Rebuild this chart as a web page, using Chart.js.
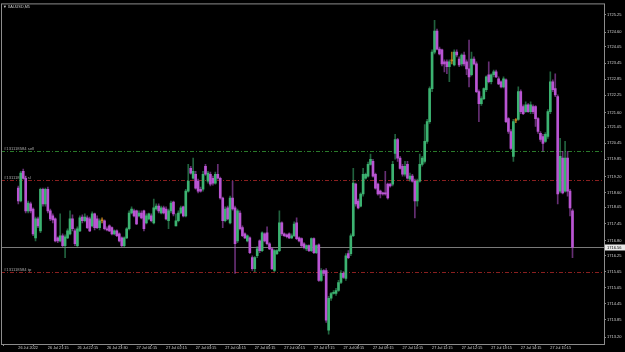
<!DOCTYPE html>
<html>
<head>
<meta charset="utf-8">
<script src="https://cdn.jsdelivr.net/npm/chart.js@4/dist/chart.umd.min.js"></script>
<style>
html,body{margin:0;padding:0;background:#000;}
canvas{display:block;}
</style>
</head>
<body>
<canvas id="c" width="625" height="352"></canvas>
<script>
const symbolTitle = 'XAUUSD,M5';
const open = [
1718.77,1718.29,1719.40,1719.14,1717.92,1718.18,1717.99,1716.91,1717.62,1717.17,
1718.73,1718.18,1718.73,1717.92,1717.73,1717.62,1716.91,1716.80,1716.99,1716.62,
1716.91,1717.06,1717.62,1717.17,1716.62,1717.17,1717.69,1717.55,1717.66,1717.62,
1717.36,1717.81,1717.62,1717.29,1717.55,1717.55,1717.25,1717.36,1717.29,1717.06,
1717.17,1717.06,1716.91,1716.62,1716.91,1717.25,1717.84,1717.92,1717.92,1717.73,
1717.84,1717.92,1717.47,1717.62,1717.73,1717.47,1717.99,1718.10,1717.84,1718.03,
1717.99,1717.55,1717.92,1718.25,1717.36,1717.55,1717.84,1718.07,1717.73,1718.66,
1719.51,1719.14,1719.29,1719.03,1718.73,1718.73,1719.59,1719.03,1719.29,1719.14,
1718.96,1719.29,1719.14,1718.40,1717.55,1718.03,1717.47,1718.40,1718.03,1716.80,
1717.84,1717.29,1717.06,1716.80,1716.91,1716.17,1715.76,1716.24,1716.80,1716.43,
1717.06,1717.10,1716.69,1716.50,1715.69,1716.32,1716.43,1717.47,1717.06,1717.02,
1717.06,1716.91,1716.99,1717.47,1716.91,1716.88,1716.69,1716.50,1716.62,1716.43,
1716.88,1716.36,1716.65,1715.32,1715.69,1715.69,1713.46,1714.65,1714.83,1714.83,
1714.94,1715.24,1715.58,1715.39,1716.32,1716.32,1716.99,1718.92,1718.29,1718.10,
1718.55,1719.14,1719.22,1719.66,1719.77,1719.29,1718.92,1718.66,1718.59,1718.59,
1718.92,1718.92,1718.92,1720.07,1720.59,1719.89,1719.59,1719.29,1719.66,1719.11,
1719.22,1719.03,1718.29,1719.03,1719.66,1719.77,1720.52,1721.26,1722.49,1723.86,
1724.64,1723.97,1723.94,1723.49,1723.49,1723.31,1723.53,1723.38,1723.86,1723.60,
1723.42,1723.75,1723.49,1723.23,1723.01,1723.60,1723.42,1722.38,1721.93,1722.12,
1722.45,1723.01,1722.75,1723.01,1723.12,1722.86,1722.75,1722.56,1722.82,1721.37,
1720.89,1719.96,1721.30,1721.34,1722.38,1721.82,1721.63,1721.89,1721.63,1721.82,
1721.82,1721.37,1720.82,1720.70,1720.52,1720.70,1721.63,1722.75,1722.49,1722.19,
1718.66,1719.89,1718.66,1719.89,1718.66,1717.92
];
const high = [
1718.85,1719.40,1719.48,1719.22,1718.29,1718.25,1718.03,1717.69,1717.69,1718.77,
1718.77,1718.77,1718.81,1717.99,1717.81,1717.66,1716.95,1717.81,1717.06,1717.02,
1717.25,1717.92,1717.77,1717.25,1717.32,1717.73,1717.77,1717.81,1717.73,1717.69,
1717.88,1717.84,1717.73,1717.62,1717.66,1717.58,1717.32,1717.40,1717.32,1717.21,
1717.21,1717.10,1716.95,1716.95,1717.29,1717.92,1718.07,1717.99,1717.95,1717.92,
1717.92,1717.95,1717.81,1717.84,1717.81,1718.36,1718.18,1718.18,1718.10,1718.10,
1718.07,1717.99,1718.29,1718.29,1717.81,1717.92,1718.10,1718.10,1718.73,1719.66,
1719.59,1719.89,1719.40,1719.11,1718.81,1719.40,1719.66,1719.40,1719.37,1719.22,
1719.37,1719.66,1719.18,1718.44,1718.07,1718.10,1718.47,1719.03,1718.10,1717.99,
1717.92,1717.36,1717.10,1717.02,1716.95,1716.24,1716.21,1716.58,1716.84,1717.14,
1717.10,1717.32,1716.73,1716.54,1716.47,1716.47,1717.92,1717.51,1717.10,1717.06,
1717.10,1717.06,1717.51,1717.66,1716.95,1716.91,1716.73,1716.65,1716.65,1716.91,
1716.91,1716.65,1716.69,1715.76,1715.72,1715.76,1714.72,1714.87,1714.94,1715.02,
1715.32,1715.69,1715.65,1716.32,1716.43,1717.06,1719.51,1718.96,1718.36,1718.59,
1719.51,1719.33,1719.74,1720.04,1719.85,1719.33,1718.96,1718.70,1718.62,1719.40,
1718.96,1718.96,1719.77,1720.78,1720.63,1719.96,1719.66,1719.77,1719.77,1719.33,
1719.29,1719.11,1719.11,1720.04,1719.96,1721.15,1721.34,1722.56,1723.94,1725.05,
1724.72,1724.05,1723.97,1723.57,1723.57,1723.57,1723.86,1723.94,1723.94,1723.68,
1723.79,1723.86,1723.57,1724.31,1723.86,1723.68,1723.49,1722.45,1722.19,1722.52,
1722.97,1723.49,1723.05,1723.19,1723.19,1722.93,1722.78,1722.93,1722.86,1721.41,
1720.96,1721.34,1721.37,1722.56,1722.45,1721.89,1722.00,1721.93,1722.00,1721.89,
1721.86,1721.41,1720.89,1720.78,1720.85,1721.71,1723.12,1722.82,1723.05,1722.26,
1720.63,1720.15,1720.52,1720.15,1718.73,1717.99
];
const low = [
1718.18,1718.25,1719.11,1717.84,1717.84,1717.84,1716.99,1716.80,1717.29,1717.10,
1718.10,1718.10,1717.84,1717.55,1717.47,1716.76,1716.73,1716.76,1716.58,1716.17,
1716.88,1717.02,1717.17,1716.62,1716.58,1717.14,1717.47,1717.51,1717.25,1717.14,
1717.32,1717.21,1717.25,1717.21,1717.47,1717.21,1717.17,1717.14,1717.02,1717.02,
1716.95,1716.76,1716.58,1716.58,1716.88,1717.21,1717.81,1717.69,1717.40,1717.69,
1717.62,1717.17,1717.43,1717.58,1717.51,1717.43,1717.95,1717.84,1717.81,1717.81,
1717.58,1717.25,1717.84,1717.73,1717.36,1717.51,1717.81,1717.69,1717.69,1718.62,
1719.29,1719.11,1718.73,1718.59,1718.62,1718.66,1719.25,1718.96,1718.85,1718.88,
1718.92,1719.11,1718.36,1717.29,1717.51,1717.58,1717.43,1717.95,1715.58,1716.73,
1717.21,1716.95,1716.88,1716.76,1716.32,1715.69,1715.65,1716.17,1716.36,1716.39,
1716.76,1716.65,1716.47,1715.72,1715.65,1716.28,1716.39,1716.99,1716.95,1716.91,
1716.88,1716.88,1716.95,1716.84,1716.76,1716.58,1716.50,1716.43,1716.39,1716.39,
1716.32,1716.32,1715.28,1715.28,1715.50,1713.75,1713.31,1714.57,1714.80,1714.76,
1714.91,1715.20,1715.39,1715.32,1716.13,1716.24,1716.95,1718.10,1717.99,1718.07,
1718.47,1719.11,1719.18,1719.63,1719.18,1718.73,1718.51,1718.40,1718.51,1718.51,
1718.36,1718.81,1718.85,1719.85,1719.77,1719.48,1719.22,1719.22,1719.11,1719.03,
1718.99,1717.66,1718.10,1718.99,1719.59,1719.70,1720.44,1721.19,1722.38,1723.79,
1723.94,1723.75,1723.34,1723.12,1723.05,1722.75,1723.42,1723.34,1723.68,1723.31,
1723.34,1723.34,1723.01,1722.56,1722.97,1723.38,1722.34,1721.26,1721.86,1722.08,
1722.38,1722.71,1722.67,1722.93,1722.90,1722.64,1722.52,1722.52,1721.22,1720.82,
1720.22,1719.77,1721.22,1721.30,1721.56,1721.52,1721.60,1721.60,1721.56,1721.56,
1721.08,1720.82,1720.52,1720.15,1720.48,1720.63,1721.56,1722.38,1722.19,1718.18,
1718.59,1718.55,1718.62,1718.47,1717.73,1716.17
];
const close = [
1718.29,1719.33,1719.14,1717.92,1718.21,1717.92,1717.06,1717.62,1717.36,1718.73,
1718.18,1718.73,1717.92,1717.62,1717.58,1716.80,1716.80,1716.99,1716.62,1716.95,
1717.17,1717.62,1717.25,1716.69,1717.25,1717.66,1717.55,1717.69,1717.29,1717.17,
1717.81,1717.29,1717.29,1717.55,1717.55,1717.25,1717.21,1717.17,1717.06,1717.17,
1716.99,1716.80,1716.62,1716.91,1717.25,1717.84,1717.99,1717.73,1717.43,1717.84,
1717.66,1717.25,1717.73,1717.81,1717.55,1718.03,1718.10,1717.92,1718.03,1717.84,
1717.62,1717.92,1718.21,1717.81,1717.55,1717.84,1718.03,1717.73,1718.66,1719.03,
1719.33,1719.40,1718.77,1718.66,1718.66,1719.29,1719.29,1719.33,1718.92,1718.96,
1719.29,1719.14,1718.40,1717.55,1717.99,1717.62,1718.40,1717.99,1716.69,1717.92,
1717.25,1716.99,1716.91,1716.99,1716.36,1715.76,1716.17,1716.50,1716.43,1717.10,
1716.80,1716.69,1716.50,1715.76,1716.43,1716.43,1717.47,1717.06,1716.99,1716.95,
1716.91,1716.99,1717.43,1716.88,1716.80,1716.62,1716.54,1716.62,1716.43,1716.88,
1716.36,1716.62,1715.32,1715.69,1715.58,1713.83,1714.65,1714.83,1714.87,1714.94,
1715.24,1715.58,1715.43,1716.24,1716.17,1716.99,1718.96,1718.18,1718.03,1718.55,
1719.29,1719.29,1719.66,1719.85,1719.22,1718.77,1718.55,1718.55,1718.55,1718.55,
1718.40,1718.85,1719.66,1720.59,1719.89,1719.51,1719.29,1719.59,1719.14,1719.22,
1719.03,1718.29,1719.03,1719.66,1719.89,1720.52,1721.26,1722.49,1723.86,1724.64,
1723.97,1723.79,1723.42,1723.42,1723.31,1723.49,1723.53,1723.86,1723.75,1723.38,
1723.75,1723.42,1723.23,1722.93,1723.60,1723.42,1722.38,1721.93,1722.12,1722.49,
1722.93,1722.75,1723.01,1723.12,1722.93,1722.67,1722.56,1722.86,1721.26,1720.89,
1720.26,1721.26,1721.30,1722.38,1721.63,1721.56,1721.89,1721.63,1721.89,1721.63,
1721.37,1720.89,1720.59,1720.44,1720.78,1721.63,1722.75,1722.45,1722.26,1718.55,
1719.96,1718.59,1719.89,1718.66,1718.03,1716.56
];
const xTickBars = [0,12,24,36,48,60,72,84,96,108,120,132,144,156,168,180,192,204,216];
const xTickLabels = ['26 Jul 2022','26 Jul 21:15','26 Jul 22:15','26 Jul 23:30','27 Jul 01:15','27 Jul 02:15','27 Jul 03:15','27 Jul 04:15','27 Jul 05:15','27 Jul 06:15','27 Jul 07:15','27 Jul 08:15','27 Jul 09:15','27 Jul 10:15','27 Jul 11:15','27 Jul 12:15','27 Jul 13:15','27 Jul 14:15','27 Jul 15:15'];
const yTickValues = [1725.25,1724.60,1724.05,1723.45,1722.85,1722.25,1721.60,1721.05,1720.45,1719.85,1719.20,1718.60,1718.05,1717.45,1716.80,1716.25,1715.65,1715.05,1714.45,1713.85,1713.20];
const orderLevels = [1720.15, 1719.07, 1715.65];
const orderLabels = ['#131118584 sell', '#131118584 sl', '#131118584 tp'];
const orderColors = ['#2a7a2a', '#8a1f1f', '#8a1f1f'];
const bidPrice = 1716.56;

const BULL = '#3cb371', BEAR = '#ba55d3', DOJI = '#c8861e';
const BULL_W = 'rgba(60,179,113,0.55)', BEAR_W = 'rgba(186,85,211,0.55)', DOJI_W = 'rgba(200,134,30,0.8)';
const FONT = 'Liberation Sans';
const TXT = '#cfcfcf', FRAME = '#8c8c8c';

function candleColor(i, wick) {
  const o = open[i], c = close[i];
  if (c > o) return wick ? BULL_W : BULL;
  if (c < o) return wick ? BEAR_W : BEAR;
  return wick ? DOJI_W : DOJI;
}

const bodies = open.map((o, i) => ({x: i, y: [o, close[i]]}));
const wicks = low.map((l, i) => ({x: i, y: [l, high[i]]}));

const overlay = {
  id: 'overlay',
  beforeDraw(chart) {
    const ctx = chart.ctx;
    ctx.save();
    ctx.fillStyle = '#000';
    ctx.fillRect(0, 0, chart.width, chart.height);
    ctx.restore();
  },
  beforeDatasetsDraw(chart) {
    const ctx = chart.ctx, ca = chart.chartArea, ys = chart.scales.y;
    ctx.save();
    ctx.lineWidth = 1;
    orderLevels.forEach((v, k) => {
      const py = Math.round(ys.getPixelForValue(v)) + 0.5;
      ctx.strokeStyle = orderColors[k];
      ctx.setLineDash([4, 2, 1, 2]);
      ctx.beginPath(); ctx.moveTo(ca.left, py); ctx.lineTo(ca.right, py); ctx.stroke();
      ctx.setLineDash([]);
      ctx.fillStyle = '#a8a8a8';
      ctx.font = '4.2px ' + FONT;
      ctx.textBaseline = 'bottom';
      ctx.textAlign = 'left';
      ctx.fillText(orderLabels[k], ca.left + 3, py - 1);
    });
    const by = Math.round(ys.getPixelForValue(bidPrice)) + 0.5;
    ctx.strokeStyle = '#7a7a7a';
    ctx.beginPath(); ctx.moveTo(ca.left, by); ctx.lineTo(ca.right, by); ctx.stroke();
    ctx.restore();
  },
  afterDraw(chart) {
    const ctx = chart.ctx, ca = chart.chartArea, ys = chart.scales.y;
    ctx.save();
    ctx.strokeStyle = FRAME;
    ctx.lineWidth = 1;
    ctx.strokeRect(ca.left + 0.5, ca.top + 0.5, ca.right - ca.left, ca.bottom - ca.top);
    ctx.fillStyle = TXT;
    ctx.font = '3.8px ' + FONT;
    ctx.textBaseline = 'middle';
    ctx.textAlign = 'left';
    ctx.fillText('\u25BC ' + symbolTitle, ca.left + 2, ca.top + 4);
    const by = Math.round(ys.getPixelForValue(bidPrice));
    ctx.fillStyle = '#e8e8e8';
    ctx.fillRect(ca.right + 1, by - 2.5, 20, 6);
    ctx.fillStyle = '#000';
    ctx.font = '4px ' + FONT;
    ctx.fillText(bidPrice.toFixed(2), ca.right + 3, by + 0.5);
    ctx.restore();
  }
};

new Chart(document.getElementById('c'), {
  type: 'bar',
  data: {
    datasets: [
      {
        label: 'body', data: bodies, order: 0,
        backgroundColor: ctx => candleColor(ctx.dataIndex, false),
        barThickness: 2, minBarLength: 1, borderWidth: 0, grouped: false
      },
      {
        label: 'wick', data: wicks, order: 1,
        backgroundColor: ctx => candleColor(ctx.dataIndex, true),
        barThickness: 1, borderWidth: 0, grouped: false
      }
    ]
  },
  options: {
    responsive: false,
    animation: false,
    devicePixelRatio: 1,
    layout: {padding: {top: 1, left: 1, right: 0, bottom: 0}},
    plugins: {legend: {display: false}, tooltip: {enabled: false}},
    scales: {
      x: {
        type: 'linear', min: -0.58, max: 231.35,
        afterBuildTicks: s => { s.ticks = xTickBars.map(v => ({value: v})); },
        afterFit: s => { s.height = 8; },
        ticks: {
          autoSkip: false, maxRotation: 0, minRotation: 0, align: 'start', padding: 0,
          color: TXT, font: {family: FONT, size: 3.8},
          callback: (v, i) => xTickLabels[i]
        },
        grid: {display: true, drawOnChartArea: false, drawTicks: true, tickLength: 2, color: FRAME},
        border: {display: false}
      },
      y: {
        type: 'linear', position: 'right', min: 1712.94, max: 1725.68,
        afterBuildTicks: s => { s.ticks = yTickValues.map(v => ({value: v})); },
        afterFit: s => { s.width = 21; },
        ticks: {
          autoSkip: false, padding: 1, color: TXT, font: {family: FONT, size: 4},
          callback: v => Number(v).toFixed(2)
        },
        grid: {display: true, drawOnChartArea: false, drawTicks: true, tickLength: 2, color: FRAME},
        border: {display: false}
      }
    }
  },
  plugins: [overlay]
});
</script>
</body>
</html>
